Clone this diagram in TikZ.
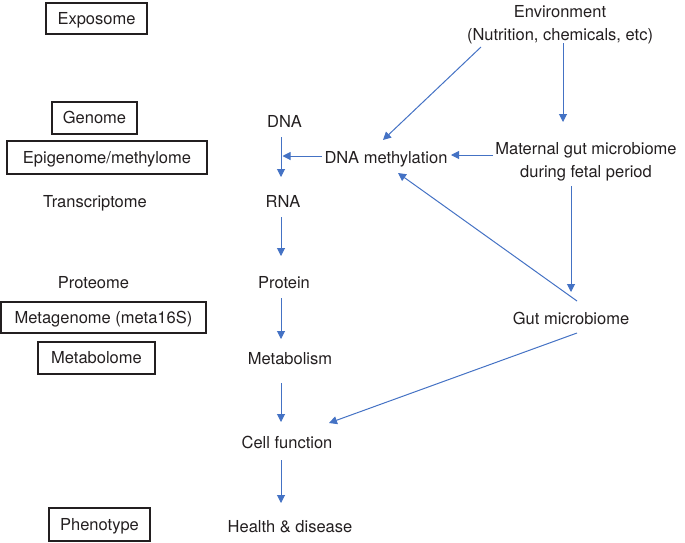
\documentclass[tikz,border=0pt]{standalone}
\usepackage{fontspec}
\setmainfont{TeX Gyre Heros}
\usetikzlibrary{arrows.meta,calc}
\definecolor{arrblue}{RGB}{68,114,196}
\definecolor{ink}{RGB}{35,31,32}
\tikzset{
  lbl/.style={font=\fontsize{16.5}{23.5}\selectfont, text=ink, text height=12pt, text depth=0.5pt, inner sep=0pt},
  twoline/.style={font=\fontsize{16.5}{23.5}\selectfont, text=ink, align=center, inner sep=0pt},
  omicbox/.style={lbl, draw=ink, line width=1.1pt, inner sep=0pt},
  arr/.style={draw=arrblue, line width=1pt, -{Triangle[length=8pt,width=8pt]}}
}
\begin{document}
\begin{tikzpicture}[x=1pt,y=-1pt]
\useasboundingbox (0,0) rectangle (685,542);
% left column
\node[omicbox, minimum width=101pt, minimum height=31pt] (expo) at (96.5,18.5) {Exposome};
\node[omicbox, minimum width=85pt, minimum height=32pt] (genome) at (94.5,118) {Genome};
\node[omicbox, minimum width=200pt, minimum height=33pt] (epi) at (107,157.5) {Epigenome/methylome};
\node[lbl] (transcr) at (95,202) {Transcriptome};
\node[lbl] (proteome) at (93.5,283) {Proteome};
\node[omicbox, minimum width=205pt, minimum height=31pt] (metag) at (103.5,317.5) {Metagenome (meta16S)};
\node[omicbox, minimum width=117pt, minimum height=32pt] (metabolome) at (96.5,358) {Metabolome};
\node[omicbox, minimum width=101pt, minimum height=33pt] (pheno) at (99.5,524.5) {Phenotype};
% middle column
\node[lbl] (dna) at (284.5,122) {DNA};
\node[lbl] (meth) at (386,157.5) {DNA methylation};
\node[lbl] (rna) at (283,202) {RNA};
\node[lbl] (protein) at (284,283) {Protein};
\node[lbl] (metab) at (290,359) {Metabolism};
\node[lbl] (cell) at (287,443) {Cell function};
\node[lbl] (health) at (290,527) {Health \& disease};
% right column
\node[twoline] (env) at (560,24.5) {Environment\\(Nutrition, chemicals, etc)};
\node[twoline] (maternal) at (586,161.75) {Maternal gut microbiome\\during fetal period};
\node[lbl] (gut) at (571,319) {Gut microbiome};
% arrows
\draw[arr] ($(dna)+(-3.5,15)$) -- ($(rna)+(-2,-25)$);
\draw[arr] ($(rna)+(-2,15)$) -- ($(protein)+(-3,-27)$);
\draw[arr] ($(protein)+(-3,15)$) -- ($(metab)+(-9,-20)$);
\draw[arr] ($(metab)+(-9,24)$) -- ($(cell)+(-6,-21)$);
\draw[arr] ($(cell)+(-6,17)$) -- ($(health)+(-9,-24)$);
\draw[arr] ($(meth)+(-64,-1.5)$) -- ($(dna)+(-2,34)$);
\draw[arr] ($(env)+(-79,22.5)$) -- ($(meth)+(-3,-17.5)$);
\draw[arr] ($(env)+(3,18.5)$) -- ($(maternal)+(-23,-39.75)$);
\draw[arr] ($(maternal)+(-93,-6.75)$) -- ($(meth)+(65,-2.5)$);
\draw[arr] ($(maternal)+(-15,24.25)$) -- ($(gut)+(0,-27)$);
\draw[arr] ($(gut)+(6,-18)$) -- ($(meth)+(12,15.5)$);
\draw[arr] ($(gut)+(6,14)$) -- ($(cell)+(42,-20)$);
\end{tikzpicture}
\end{document}
